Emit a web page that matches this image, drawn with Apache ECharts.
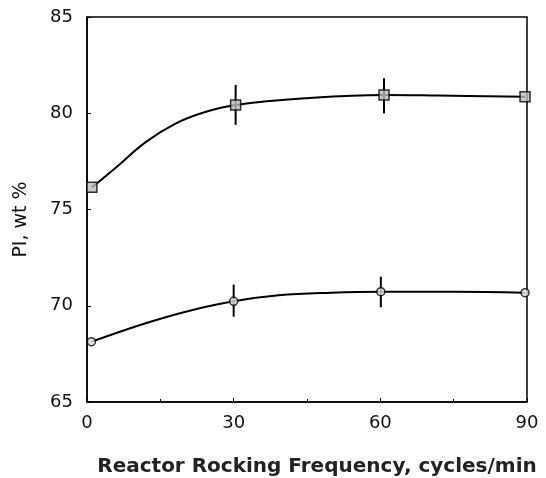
<!DOCTYPE html>
<html>
<head>
<meta charset="utf-8">
<script src="https://cdn.jsdelivr.net/npm/echarts@6/dist/echarts.min.js"></script>
<style>
html,body{margin:0;padding:0;background:#fff;}
#chart{width:546px;height:478px;}
</style>
</head>
<body>
<div id="chart"></div>
<script>
// Measured points (x = cycles/min, y = PI wt %)
const upperX = [1, 30.4, 60.75, 89.6];
const upperY = [76.15, 80.43, 80.95, 80.86];
const lowerX = [0.9, 30.0, 60.1, 89.6];
const lowerY = [68.13, 70.23, 70.73, 70.68];

// Error bars: [x, low, high]
const upperErrX = [30.4, 60.75];
const upperErrLo = [79.4, 80.0];
const upperErrHi = [81.47, 81.82];
const lowerErrX = [30.0, 60.1];
const lowerErrLo = [69.43, 69.92];
const lowerErrHi = [71.1, 71.51];

// Fitted curves as drawn in the figure
const upperCurveX = [1, 6, 12, 18, 24, 30.4, 45, 60.75, 72, 89.6];
const upperCurveY = [76.15, 77.2, 78.5, 79.45, 80.05, 80.43, 80.78, 80.95, 80.92, 80.86];
const lowerCurveX = [0.9, 12, 20.8, 30.0, 39.2, 50, 60.1, 75, 89.6];
const lowerCurveY = [68.13, 69.09, 69.73, 70.23, 70.54, 70.68, 70.73, 70.73, 70.68];

const xTicks = [0, 30, 60, 90];
const yTicks = [65, 70, 75, 80, 85];

const zip = (a, b) => a.map((v, i) => [v, b[i]]);
const zip3 = (a, b, c) => a.map((v, i) => [v, b[i], c[i]]);

const errRender = function (params, api) {
  const p1 = api.coord([api.value(0), api.value(1)]);
  const p2 = api.coord([api.value(0), api.value(2)]);
  return {
    type: 'line',
    shape: {x1: p1[0], y1: p1[1], x2: p2[0], y2: p2[1]},
    style: {stroke: '#000', lineWidth: 2}
  };
};

const font = '"DejaVu Sans", sans-serif';
const chart = echarts.init(document.getElementById('chart'));
chart.setOption({
  animation: false,
  backgroundColor: '#fff',
  grid: {left: 87, right: 19, top: 17, bottom: 76, containLabel: false, outerBoundsMode: 'none',
         show: true, borderColor: '#000', borderWidth: 1.5},
  xAxis: {
    type: 'value', min: xTicks[0], max: xTicks[xTicks.length - 1], interval: 30,
    name: 'Reactor Rocking Frequency, cycles/min',
    nameLocation: 'middle', nameGap: 55,
    nameTextStyle: {fontFamily: font, fontWeight: 'bold', fontSize: 20, color: '#222', padding: [0, 0, 0, 20]},
    axisLine: {lineStyle: {color: '#000', width: 1.5}},
    axisTick: {inside: true, length: 4, lineStyle: {color: '#000'}},
    minorTick: {show: true, splitNumber: 2, length: 3, lineStyle: {color: '#000'}},
    splitLine: {show: false},
    axisLabel: {fontFamily: font, fontSize: 18, color: '#111', margin: 12}
  },
  yAxis: {
    type: 'value', min: yTicks[0], max: yTicks[yTicks.length - 1], interval: 5,
    name: 'PI, wt %',
    nameLocation: 'middle', nameGap: 56, nameRotate: 90,
    nameTextStyle: {fontFamily: font, fontSize: 19, color: '#111', padding: [0, 20, 0, 0]},
    axisLine: {lineStyle: {color: '#000', width: 1.5}},
    axisTick: {inside: true, length: 4, lineStyle: {color: '#000'}},
    splitLine: {show: false},
    axisLabel: {fontFamily: font, fontSize: 18, color: '#111', margin: 14}
  },
  series: [
    {type: 'line', data: zip(upperCurveX, upperCurveY), smooth: 0.4, symbol: 'none',
     lineStyle: {color: '#000', width: 2}, z: 2},
    {type: 'line', data: zip(lowerCurveX, lowerCurveY), smooth: 0.4, symbol: 'none',
     lineStyle: {color: '#000', width: 2}, z: 2},
    {type: 'custom', data: zip3(upperErrX, upperErrLo, upperErrHi), renderItem: errRender, z: 3},
    {type: 'custom', data: zip3(lowerErrX, lowerErrLo, lowerErrHi), renderItem: errRender, z: 3},
    {type: 'scatter', data: zip(upperX, upperY), symbol: 'rect', symbolSize: 10,
     itemStyle: {color: '#bbb', borderColor: '#000', borderWidth: 1.5}, z: 5},
    {type: 'scatter', data: zip(lowerX, lowerY), symbol: 'circle', symbolSize: 8,
     itemStyle: {color: '#e0e0e0', borderColor: '#000', borderWidth: 1.5}, z: 5}
  ]
});
</script>
</body>
</html>
